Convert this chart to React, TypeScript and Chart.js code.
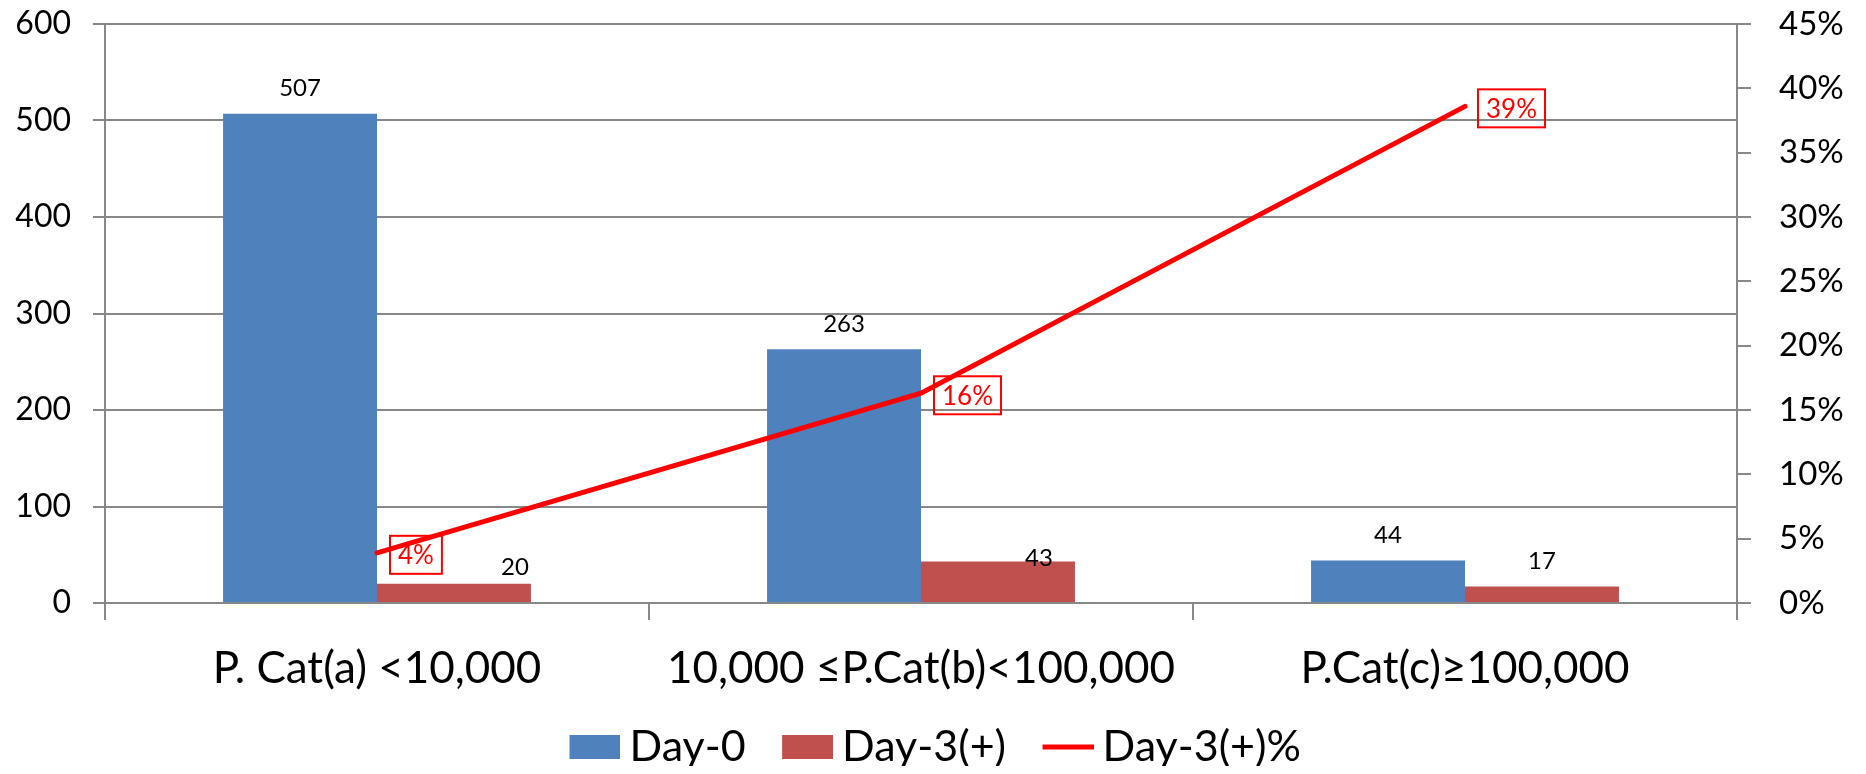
import React, { useEffect, useRef } from "react";
import { Chart, registerables } from "chart.js";

Chart.register(...registerables);

// ---- data ----
const categories = ["P. Cat(a) <10,000", "10,000 ≤P.Cat(b)<100,000", "P.Cat(c)≥100,000"];
const seriesNames = ["Day-0", "Day-3(+)", "Day-3(+)%"];
const day0Values = [507, 263, 44];
const day3Values = [20, 43, 17];
const day3PctValues = [3.9, 16.3, 38.6];
const leftAxisMax = 600;
const leftAxisStep = 100;
const rightAxisMax = 45;
const rightAxisStep = 5;

// ---- styling / layout (not data) ----
const FONT = "Lato, 'Open Sans', sans-serif";
const BLUE = "#4F81BD";
const RED_BAR = "#C0504D";
const RED_LINE = "#FF0000";
const GRID = "#888888";
// small nudges applied to bar value labels so they sit as in the reference
const barLabelNudge: number[][][] = [
  [[0, 0], [0, 0], [0, 0]],
  [[61, 9], [41, 22], [0, 0]],
];
const LEGEND_SHIFT_X = -14;

// legend swatch: visible part (51 x 24) at the right edge of a wider transparent canvas
const SWATCH_CANVAS_W = 96;
function makeSwatch(color: string, thickness?: number) {
  const w = 51;
  const h = 24;
  const c = document.createElement("canvas");
  c.width = SWATCH_CANVAS_W;
  c.height = h;
  const g = c.getContext("2d")!;
  g.fillStyle = color;
  const x0 = SWATCH_CANVAS_W - w;
  if (thickness) g.fillRect(x0, (h - thickness) / 2, w, thickness);
  else g.fillRect(x0, 0, w, h);
  return c;
}

const legendShiftPlugin = {
  id: "legendShift",
  afterLayout(chart: any) {
    if (chart.legend) {
      chart.legend.left += LEGEND_SHIFT_X;
      chart.legend.right += LEGEND_SHIFT_X;
    }
  },
};

const labelPlugin = {
  id: "valueLabels",
  afterDatasetsDraw(chart: any) {
    const ctx = chart.ctx as CanvasRenderingContext2D;
    ctx.save();
    ctx.textAlign = "center";
    ctx.textBaseline = "middle";
    [0, 1].forEach((di) => {
      const meta = chart.getDatasetMeta(di);
      meta.data.forEach((el: any, i: number) => {
        const v = chart.data.datasets[di].data[i];
        const n = barLabelNudge[di][i];
        ctx.font = `24px ${FONT}`;
        ctx.fillStyle = "#000";
        ctx.fillText(String(v), el.x + n[0], el.y - 25 + n[1]);
      });
    });
    const lm = chart.getDatasetMeta(2);
    lm.data.forEach((pt: any, i: number) => {
      const v = chart.data.datasets[2].data[i] as number;
      const txt = Math.round(v) + "%";
      ctx.font = `26px ${FONT}`;
      const w = ctx.measureText(txt).width + 16;
      const h = 38;
      const x0 = pt.x + 13;
      const y0 = pt.y - h / 2 + 2;
      ctx.lineWidth = 2;
      ctx.strokeStyle = RED_LINE;
      ctx.strokeRect(x0, y0, w, h);
      ctx.fillStyle = RED_LINE;
      ctx.fillText(txt, x0 + w / 2, y0 + h / 2 + 1);
    });
    ctx.restore();
  },
};

export default function App() {
  const ref = useRef<HTMLCanvasElement | null>(null);

  useEffect(() => {
    if (!ref.current) return;
    const swatches = [makeSwatch(BLUE), makeSwatch(RED_BAR), makeSwatch(RED_LINE, 5)];
    const chart = new Chart(ref.current, {
      type: "bar",
      data: {
        labels: categories,
        datasets: [
          {
            type: "bar",
            label: seriesNames[0],
            data: day0Values,
            backgroundColor: BLUE,
            borderWidth: 0,
            yAxisID: "y",
            order: 0,
            categoryPercentage: 0.566,
            barPercentage: 1,
          } as any,
          {
            type: "bar",
            label: seriesNames[1],
            data: day3Values,
            backgroundColor: RED_BAR,
            borderWidth: 0,
            yAxisID: "y",
            order: 0,
            categoryPercentage: 0.566,
            barPercentage: 1,
          } as any,
          {
            type: "line",
            label: seriesNames[2],
            data: day3PctValues,
            borderColor: RED_LINE,
            backgroundColor: RED_LINE,
            borderWidth: 5,
            borderCapStyle: "round",
            pointRadius: 0,
            tension: 0,
            yAxisID: "y1",
            order: -1,
          } as any,
        ],
      },
      options: {
        animation: false,
        responsive: true,
        maintainAspectRatio: false,
        layout: { padding: { top: 0, bottom: 0, left: 0, right: 0 } },
        plugins: {
          tooltip: { enabled: false },
          legend: {
            position: "bottom",
            maxHeight: 44.5,
            labels: {
              usePointStyle: true,
              pointStyleWidth: 71,
              boxHeight: 24,
              padding: 4,
              color: "#000",
              font: { family: FONT, size: 43 },
              generateLabels: (c: any) => {
                const items = (Chart.defaults.plugins.legend.labels as any).generateLabels(c);
                items.sort((a: any, b: any) => a.datasetIndex - b.datasetIndex);
                return items.map((it: any) => ({ ...it, pointStyle: swatches[it.datasetIndex] }));
              },
            },
          } as any,
        },
        scales: {
          x: {
            offset: true,
            grid: {
              offset: true,
              drawOnChartArea: false,
              drawTicks: true,
              tickLength: 17,
              color: GRID,
              lineWidth: 2,
            },
            border: { display: true, color: GRID, width: 2 },
            ticks: {
              color: "#000",
              padding: 22,
              font: { family: FONT, size: 44 },
              maxRotation: 0,
              autoSkip: false,
            },
            afterFit: (s: any) => {
              s.height = 118.5;
            },
          } as any,
          y: {
            position: "left",
            min: 0,
            max: leftAxisMax,
            ticks: {
              stepSize: leftAxisStep,
              color: "#000",
              padding: 22,
              font: { family: FONT, size: 32, lineHeight: 1 },
            },
            grid: { color: GRID, lineWidth: 2, tickLength: 12, drawTicks: true },
            border: { display: true, color: GRID, width: 2 },
            afterFit: (s: any) => {
              s.width = 97;
              s.paddingTop = 16;
              s.paddingBottom = 0;
            },
          },
          y1: {
            position: "right",
            min: 0,
            max: rightAxisMax,
            ticks: {
              stepSize: rightAxisStep,
              color: "#000",
              padding: 28,
              font: { family: FONT, size: 33, lineHeight: 1 },
              callback: (v: any) => v + "%",
            },
            grid: { drawOnChartArea: false, color: GRID, lineWidth: 2, tickLength: 14, drawTicks: true },
            border: { display: true, color: GRID, width: 2 },
            afterFit: (s: any) => {
              s.width = 121;
              s.paddingTop = 16;
              s.paddingBottom = 0;
            },
          },
        },
      },
      plugins: [labelPlugin, legendShiftPlugin],
    });
    return () => chart.destroy();
  }, []);

  return (
    <div style={{ position: "relative", height: "758px" }}>
      <canvas ref={ref} />
    </div>
  );
}
